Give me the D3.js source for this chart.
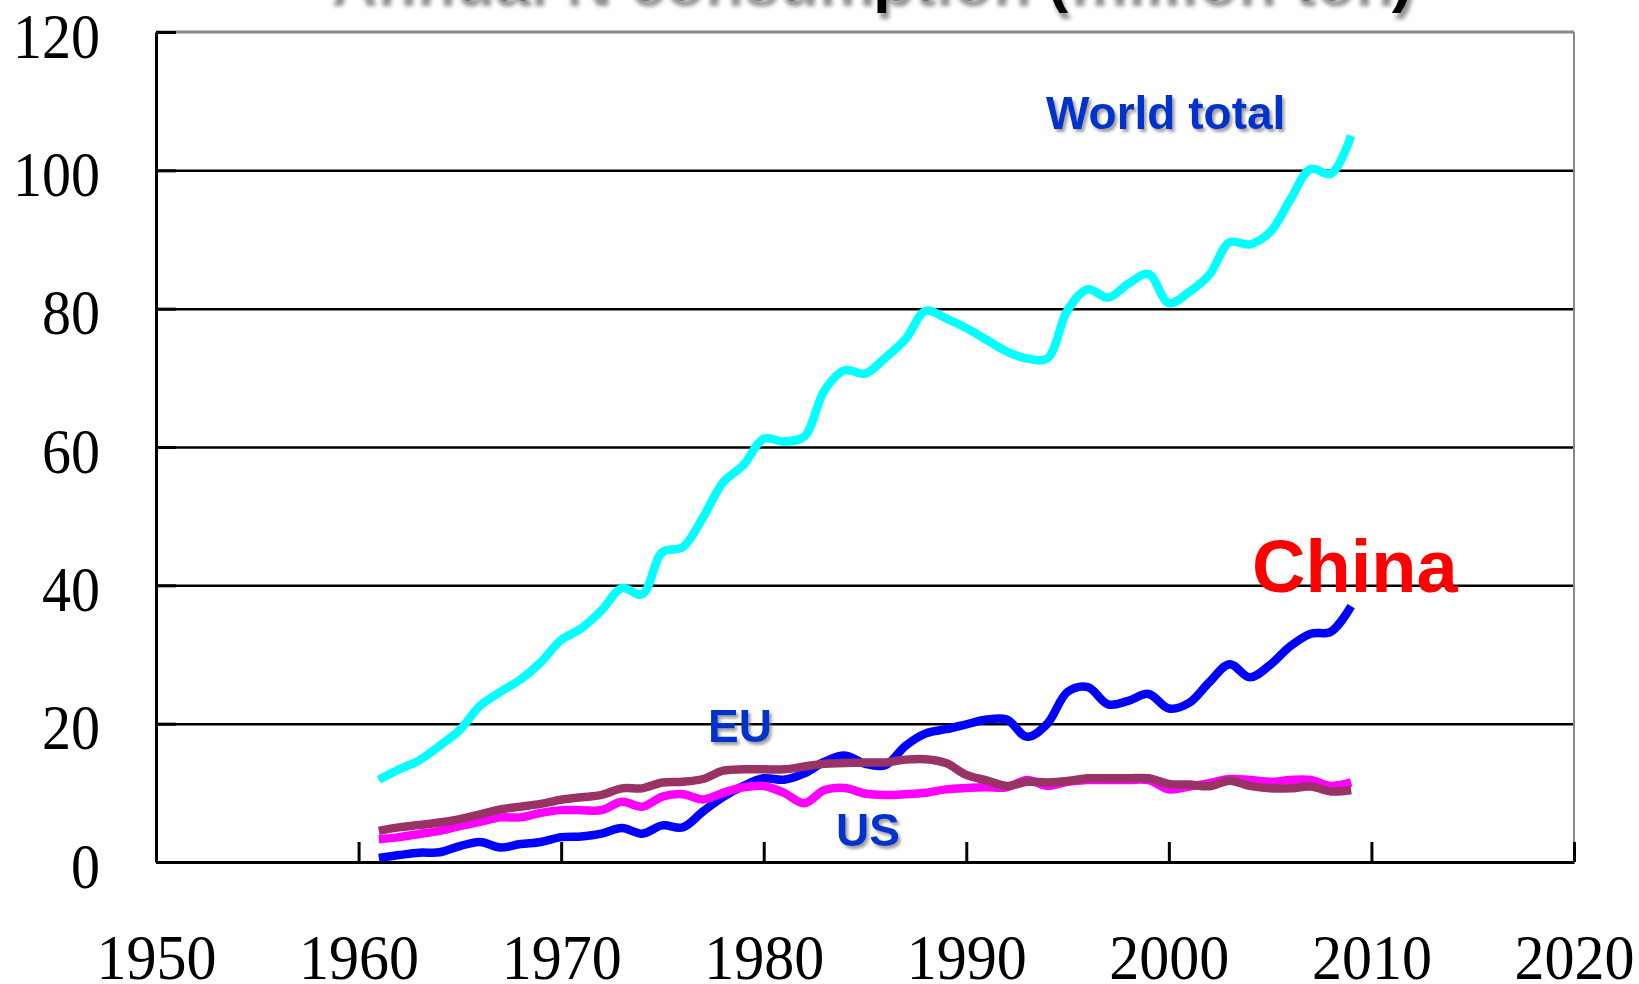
<!DOCTYPE html>
<html>
<head>
<meta charset="utf-8">
<script src="https://cdn.jsdelivr.net/npm/d3@7"></script>
<style>
  body { margin: 0; background: #fff; }
</style>
</head>
<body>
<div id="chart"></div>
<script>
// data (million ton N)
var years = [1961, 1962, 1963, 1964, 1965, 1966, 1967, 1968, 1969, 1970,
  1971, 1972, 1973, 1974, 1975, 1976, 1977, 1978, 1979, 1980,
  1981, 1982, 1983, 1984, 1985, 1986, 1987, 1988, 1989, 1990,
  1991, 1992, 1993, 1994, 1995, 1996, 1997, 1998, 1999, 2000,
  2001, 2002, 2003, 2004, 2005, 2006, 2007, 2008, 2009];

var worldTotal = [11.9, 13.4, 14.7, 16.8, 19.1, 22.6, 24.6, 26.4, 28.9, 32.1,
  33.8, 36.4, 39.6, 38.7, 44.8, 45.5, 49.8, 54.9, 57.4, 61.2,
  60.8, 61.5, 68.2, 71.1, 70.6, 72.9, 75.6, 79.7, 78.6, 77.2,
  75.5, 73.8, 72.8, 72.8, 79.8, 82.8, 81.6, 83.6, 85.0, 80.8,
  82.4, 84.9, 89.6, 89.3, 91.1, 95.8, 100.2, 99.5, 105.0];

var china = [0.6, 1.0, 1.35, 1.4, 2.3, 2.9, 2.1, 2.6, 2.9, 3.6,
  3.7, 4.1, 4.9, 4.1, 5.3, 5.0, 7.3, 9.4, 11.0, 12.1,
  11.9, 12.8, 14.5, 15.4, 14.2, 14.0, 16.8, 18.6, 19.2, 19.9,
  20.6, 20.6, 18.1, 20.0, 24.6, 25.3, 22.8, 23.3, 24.3, 22.2,
  23.0, 26.0, 28.6, 26.7, 28.5, 31.2, 33.0, 33.3, 37.0];

var us = [3.3, 3.6, 4.05, 4.5, 5.2, 5.8, 6.45, 6.45, 7.1, 7.5,
  7.5, 7.5, 8.7, 8.0, 9.45, 9.8, 9.05, 10.0, 10.8, 11.0,
  10.0, 8.5, 10.4, 10.7, 9.9, 9.7, 9.8, 10.0, 10.5, 10.7,
  10.8, 10.8, 11.85, 11.0, 11.6, 11.85, 11.85, 11.85, 11.85, 10.5,
  10.9, 11.4, 12.0, 11.85, 11.6, 11.85, 11.85, 11.0, 11.5];

var eu = [4.5, 5.0, 5.35, 5.7, 6.2, 6.9, 7.6, 8.0, 8.4, 9.0,
  9.35, 9.7, 10.65, 10.65, 11.5, 11.6, 12.0, 13.2, 13.4, 13.4,
  13.4, 13.8, 14.2, 14.3, 14.4, 14.4, 14.8, 14.85, 14.3, 12.6,
  11.8, 11.0, 11.6, 11.5, 11.7, 12.1, 12.1, 12.1, 12.1, 11.3,
  11.2, 10.95, 11.75, 11.0, 10.65, 10.65, 10.9, 10.2, 10.4];

var yTicks = [0, 20, 40, 60, 80, 100, 120];
var xTicks = [1950, 1960, 1970, 1980, 1990, 2000, 2010, 2020];

var series = [
  {name: "World total", values: worldTotal, color: "#00ffff"},
  {name: "China", values: china, color: "#0000ff"},
  {name: "US", values: us, color: "#ff00ff"},
  {name: "EU", values: eu, color: "#993366"}
];

// set up area for chart with margins
var svgWidth = 1639;
var svgHeight = 984;

var margin = {top: 32, right: 65, bottom: 122, left: 156};

var width = svgWidth - margin.left - margin.right;
var height = svgHeight - margin.top - margin.bottom;

var svg = d3.select("#chart")
  .append("svg")
  .attr("width", svgWidth)
  .attr("height", svgHeight);

var defs = svg.append("defs");

// grey drop shadow used by the labels
defs.append("filter")
  .attr("id", "shadow")
  .attr("x", "-10%").attr("y", "-10%")
  .attr("width", "130%").attr("height", "140%")
  .append("feDropShadow")
  .attr("dx", 2.5).attr("dy", 3)
  .attr("stdDeviation", 1.5)
  .attr("flood-color", "#777")
  .attr("flood-opacity", 0.7);

// softer, deeper shadow for the title
defs.append("filter")
  .attr("id", "titleShadow")
  .attr("x", "-10%").attr("y", "-50%")
  .attr("width", "130%").attr("height", "200%")
  .append("feDropShadow")
  .attr("dx", 3).attr("dy", 6)
  .attr("stdDeviation", 2)
  .attr("flood-color", "#777")
  .attr("flood-opacity", 0.8);

// title, mostly cut off by the top of the picture
svg.append("text")
  .attr("x", 871)
  .attr("y", 0)
  .attr("text-anchor", "middle")
  .attr("filter", "url(#titleShadow)")
  .style("font-family", "Arial, 'Liberation Sans', sans-serif")
  .style("font-weight", "bold")
  .style("font-size", "64px")
  .text("Annual N consumption (million ton)");

var chartGroup = svg.append("g")
  .attr("transform", `translate(${margin.left}, ${margin.top})`);

var xScale = d3.scaleLinear()
  .domain([1950, 2020])
  .range([0, width]);

var yScale = d3.scaleLinear()
  .domain([0, 120])
  .range([height, 0]);

// gridlines
chartGroup.append("g")
  .call(d3.axisLeft(yScale).tickValues(yTicks.slice(1, -1)).tickSize(-width).tickFormat(""))
  .call(g => g.select(".domain").remove())
  .selectAll("line")
  .attr("stroke", "#000")
  .attr("stroke-width", 2.5);

// grey frame top and right
chartGroup.append("line")
  .attr("x1", 0).attr("x2", width)
  .attr("y1", yScale(120)).attr("y2", yScale(120))
  .attr("stroke", "#888").attr("stroke-width", 3);
chartGroup.append("line")
  .attr("x1", width).attr("x2", width)
  .attr("y1", 0).attr("y2", height)
  .attr("stroke", "#888").attr("stroke-width", 2);

// y axis, ticks inside
var leftAxis = d3.axisLeft(yScale)
  .tickValues(yTicks)
  .tickSizeInner(-20)
  .tickSizeOuter(0)
  .tickPadding(56);

chartGroup.append("g")
  .call(leftAxis)
  .call(g => g.select(".domain").attr("stroke-width", 3))
  .call(g => g.selectAll(".tick line").attr("stroke-width", 3))
  .selectAll("text")
  .attr("dy", null)
  .attr("y", 25)
  .attr("fill", "#000")
  .attr("textLength", d => String(d).length * 29)
  .attr("lengthAdjust", "spacingAndGlyphs")
  .style("font-family", "'Liberation Serif', 'Times New Roman', serif")
  .style("font-size", "64px");

// x axis, ticks inside
var bottomAxis = d3.axisBottom(xScale)
  .tickValues(xTicks)
  .tickFormat(d3.format("d"))
  .tickSizeInner(-20)
  .tickSizeOuter(0)
  .tickPadding(0);

chartGroup.append("g")
  .attr("transform", `translate(0, ${height})`)
  .call(bottomAxis)
  .call(g => g.select(".domain").attr("stroke-width", 3))
  .call(g => g.selectAll(".tick line").attr("stroke-width", 3))
  .selectAll("text")
  .attr("dy", null)
  .attr("y", 117)
  .attr("fill", "#000")
  .attr("textLength", 120)
  .attr("lengthAdjust", "spacingAndGlyphs")
  .style("font-family", "'Liberation Serif', 'Times New Roman', serif")
  .style("font-size", "64px");

// the lines, smoothed like the original
var line = d3.line()
  .x((d, i) => xScale(years[i]))
  .y(d => yScale(d))
  .curve(d3.curveCatmullRom.alpha(0.5));

chartGroup.selectAll(".series")
  .data(series)
  .enter()
  .append("path")
  .attr("class", "series")
  .attr("d", d => line(d.values))
  .attr("fill", "none")
  .attr("stroke", d => d.color)
  .attr("stroke-width", 8.5)
  .attr("stroke-linejoin", "round");

// series labels
var labels = [
  {text: "World total", x: 1046, y: 129, size: 46, color: "#0033cc", shadow: true},
  {text: "EU", x: 708, y: 742, size: 46, color: "#0033cc", shadow: true},
  {text: "US", x: 836, y: 846, size: 46, color: "#0033cc", shadow: true},
  {text: "China", x: 1252, y: 592, size: 74, color: "#ff0000", shadow: false}
];

svg.selectAll(".label")
  .data(labels)
  .enter()
  .append("text")
  .attr("class", "label")
  .attr("x", d => d.x)
  .attr("y", d => d.y)
  .attr("fill", d => d.color)
  .attr("filter", d => d.shadow ? "url(#shadow)" : null)
  .style("font-family", "Arial, 'Liberation Sans', sans-serif")
  .style("font-weight", "bold")
  .style("font-size", d => d.size + "px")
  .text(d => d.text);
</script>
</body>
</html>
